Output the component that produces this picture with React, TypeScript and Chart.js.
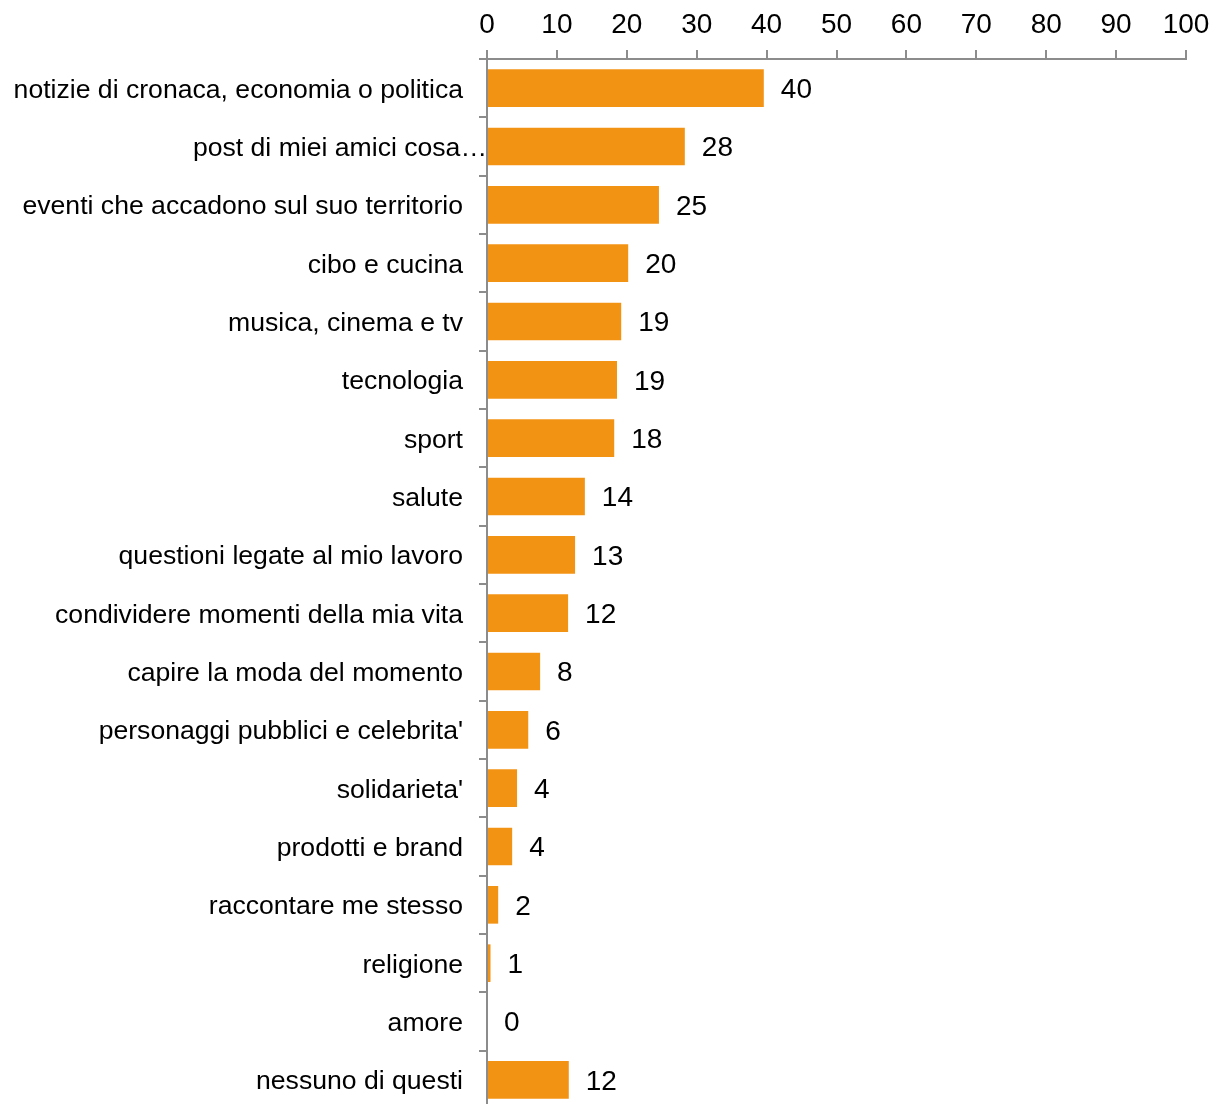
import React, { useEffect, useRef } from "react";
import { Chart, registerables } from "chart.js";

Chart.register(...registerables);

const categories = [
  "notizie di cronaca, economia o politica",
  "post di miei amici cosa…",
  "eventi che accadono sul suo territorio",
  "cibo e cucina",
  "musica, cinema e tv",
  "tecnologia",
  "sport",
  "salute",
  "questioni legate al mio lavoro",
  "condividere momenti della mia vita",
  "capire la moda del momento",
  "personaggi pubblici e celebrita'",
  "solidarieta'",
  "prodotti e brand",
  "raccontare me stesso",
  "religione",
  "amore",
  "nessuno di questi",
];

const values = [39.6, 28.3, 24.6, 20.2, 19.2, 18.6, 18.2, 14.0, 12.6, 11.6, 7.6, 5.9, 4.3, 3.6, 1.6, 0.5, 0, 11.7];

const xTicks = [0, 10, 20, 30, 40, 50, 60, 70, 80, 90, 100];

// index of the category label that was truncated and runs up to the axis
const truncatedIndex = 1;

const FONT = "'Liberation Sans', Arial, sans-serif";
const LABEL_SIZE = 26.6;

const valueLabels = {
  id: "valueLabels",
  afterDatasetsDraw(chart: any) {
    const ctx = chart.ctx;
    const meta = chart.getDatasetMeta(0);
    ctx.save();
    ctx.font = `28px ${FONT}`;
    ctx.fillStyle = "#000";
    ctx.textAlign = "left";
    ctx.textBaseline = "middle";
    meta.data.forEach((bar: any, i: number) => {
      const v = values[i];
      ctx.fillText(String(Math.round(v)), bar.x + 17, bar.y + 2);
    });
    // truncated label drawn flush against the axis
    const yScale = chart.scales.y;
    ctx.font = `${LABEL_SIZE}px ${FONT}`;
    ctx.textAlign = "right";
    ctx.fillText(categories[truncatedIndex], chart.chartArea.left, yScale.getPixelForValue(truncatedIndex) + 2);
    ctx.restore();
  },
};

export default function App() {
  const ref = useRef<HTMLCanvasElement | null>(null);
  useEffect(() => {
    document.body.style.margin = "0";
    document.body.style.overflow = "hidden";
    const chart = new Chart(ref.current!, {
      type: "bar",
      data: {
        labels: categories,
        datasets: [
          {
            data: values,
            backgroundColor: "#F39314",
            borderWidth: 0,
            barPercentage: 0.645,
            categoryPercentage: 1,
          },
        ],
      },
      options: {
        indexAxis: "y",
        animation: false,
        responsive: false,
        devicePixelRatio: 1,
        layout: { padding: { left: 0, right: 30, top: 0, bottom: 0 } },
        plugins: { legend: { display: false }, tooltip: { enabled: false } },
        scales: {
          x: {
            position: "top",
            min: 0,
            max: 100,
            afterBuildTicks: (s: any) => {
              s.ticks = xTicks.map((v) => ({ value: v }));
            },
            afterFit: (s: any) => {
              s.height = 59;
              s.paddingLeft = 0;
              s.paddingRight = 0;
            },
            ticks: {
              font: { family: FONT, size: 28 },
              color: "#000",
              padding: 8,
              maxRotation: 0,
            },
            border: { color: "#8c8c8c", width: 2 },
            grid: {
              drawOnChartArea: false,
              color: "#8c8c8c",
              lineWidth: 2,
              tickLength: 9,
            },
          },
          y: {
            afterFit: (s: any) => {
              s.width = 487;
              s.paddingTop = 0;
              s.paddingBottom = 0;
            },
            ticks: {
              font: { family: FONT, size: LABEL_SIZE },
              color: (c: any) => (c.index === truncatedIndex ? "rgba(0,0,0,0)" : "#000"),
              padding: 16,
              labelOffset: 2,
            },
            border: { color: "#8c8c8c", width: 2 },
            grid: {
              offset: true,
              drawOnChartArea: false,
              color: "#8c8c8c",
              lineWidth: 2,
              tickLength: 8,
            },
          },
        },
      },
      plugins: [valueLabels],
    });
    return () => chart.destroy();
  }, []);
  return (
    <div style={{ width: 1216, height: 1104, overflow: "hidden", position: "relative" }}>
      <canvas ref={ref} width={1216} height={1109} style={{ display: "block" }} />
    </div>
  );
}
